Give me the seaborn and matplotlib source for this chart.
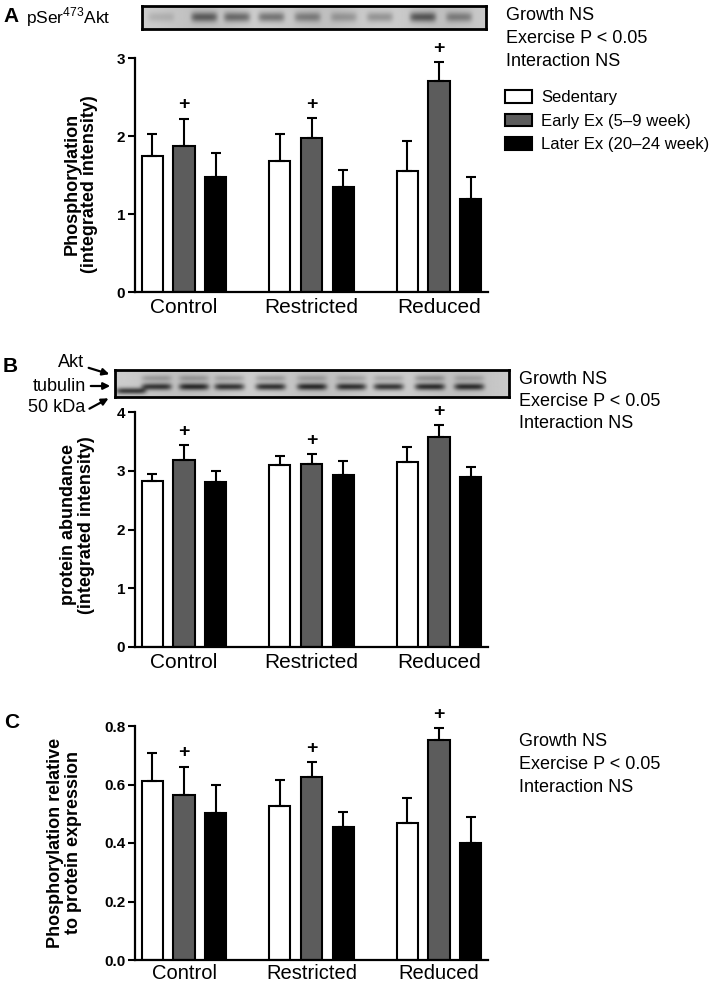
import numpy as np
import pandas as pd
import matplotlib
matplotlib.use('Agg')
import matplotlib.pyplot as plt
from matplotlib.container import BarContainer
import seaborn as sns

groups = ['Control', 'Restricted', 'Reduced']
treatments = ['Sedentary', 'Early Ex (5–9 week)', 'Later Ex (20–24 week)']
bar_colors = ['white', '#5c5c5c', 'black']

# A: pSer473 Akt phosphorylation (rows = group, cols = treatment)
phos_mean = [[1.74, 1.87, 1.47], [1.68, 1.98, 1.35], [1.55, 2.70, 1.19]]
phos_sem = [[0.28, 0.35, 0.31], [0.34, 0.25, 0.22], [0.38, 0.25, 0.29]]
# B: total Akt protein abundance
prot_mean = [[2.83, 3.18, 2.81], [3.09, 3.11, 2.93], [3.15, 3.58, 2.89]]
prot_sem = [[0.12, 0.25, 0.18], [0.16, 0.17, 0.23], [0.26, 0.20, 0.17]]
# C: phosphorylation relative to protein
ratio_mean = [[0.611, 0.565, 0.502], [0.525, 0.624, 0.454], [0.469, 0.751, 0.401]]
ratio_sem = [[0.098, 0.096, 0.095], [0.091, 0.052, 0.051], [0.085, 0.041, 0.089]]

stats_lines = ['Growth NS', 'Exercise P < 0.05', 'Interaction NS']

# western blot lanes (band darkness 0..1)
blot_a_lanes = [0.055, 0.18, 0.275, 0.375, 0.48, 0.585, 0.69, 0.815, 0.92]
blot_a_band = [0.15, 0.60, 0.55, 0.50, 0.42, 0.28, 0.32, 0.65, 0.42]
blot_b_lanes = [0.04, 0.105, 0.20, 0.29, 0.395, 0.50, 0.60, 0.695, 0.80, 0.90]
blot_b_akt = [0.0, 0.25, 0.25, 0.22, 0.25, 0.22, 0.20, 0.20, 0.30, 0.20]
blot_b_tub = [0.0, 0.85, 0.90, 0.88, 0.90, 0.90, 0.88, 0.88, 0.90, 0.88]
blot_b_marker = [0.85, 0, 0, 0, 0, 0, 0, 0, 0, 0]

W, H = 709, 986
sns.set_theme(style='ticks')
plt.rcParams['font.family'] = ['Liberation Sans', 'DejaVu Sans']
plt.rcParams['mathtext.fontset'] = 'custom'
plt.rcParams['mathtext.rm'] = 'Liberation Sans'
for key in ['text.color', 'axes.labelcolor', 'xtick.color', 'ytick.color', 'axes.edgecolor']:
    plt.rcParams[key] = 'black'

fig = plt.figure(figsize=(W / 100, H / 100), dpi=100)


def fx(x):
    return x / W


def fy(y):
    return 1 - y / H


def bar_panel(top, bottom, means, sems, ylim, yticks, fmt, ylabel, lab_xy):
    ax = fig.add_axes([fx(135), fy(bottom), fx(488) - fx(135), fy(top) - fy(bottom)])
    df = pd.DataFrame({
        'group': np.repeat(groups, 3),
        'treatment': treatments * 3,
        'value': np.ravel(means),
    })
    sns.barplot(data=df, x='group', y='value', hue='treatment', order=groups,
                hue_order=treatments, palette=bar_colors, saturation=1,
                width=0.745, gap=0.33, errorbar=None, edgecolor='black',
                linewidth=1.5, ax=ax)
    bar_sets = [c for c in ax.containers if isinstance(c, BarContainer)]
    for i, cont in enumerate(bar_sets):
        for j, bar in enumerate(cont):
            x = bar.get_x() + bar.get_width() / 2
            h = bar.get_height()
            e = sems[j][i]
            ax.errorbar(x, h, yerr=[[0], [e]], fmt='none', ecolor='black',
                        elinewidth=1.5, capsize=3.6, capthick=1.5, zorder=1)
            if i == 1:
                ax.annotate('+', (x, h + e), xytext=(0, 10), textcoords='offset points',
                            ha='center', va='center', fontsize=14, fontweight='bold',
                            annotation_clip=False)
    ax.set_xlim(-0.385, 2.385)
    ax.set_ylim(*ylim)
    ax.set_yticks(yticks)
    ax.set_yticklabels([fmt.format(t) for t in yticks], fontsize=11, fontweight='bold')
    ax.tick_params(axis='y', direction='out', length=5, width=1.5, pad=2)
    ax.tick_params(axis='x', length=0, labelsize=15, pad=4.5)
    sns.despine(ax=ax)
    for s in ['left', 'bottom']:
        ax.spines[s].set_linewidth(1.6)
    ax.set_xlabel('')
    ax.set_ylabel(ylabel, fontsize=13, fontweight='bold', linespacing=1.05)
    ax.yaxis.set_label_coords(*lab_xy)
    return ax


def blot(left, top, right, bottom, rows, lanes):
    bax = fig.add_axes([fx(left), fy(bottom), fx(right) - fx(left), fy(top) - fy(bottom)])
    nx, ny = 500, 60
    xx, yy = np.meshgrid(np.linspace(0, 1, nx), np.linspace(0, 1, ny))
    img = np.full(xx.shape, 0.80) - 0.05 * np.sin(xx * 9) ** 2
    for cy, sy, dark in rows:
        for cx, d in zip(lanes, dark):
            if d <= 0:
                continue
            img -= d * 0.65 * np.exp(-((xx - cx) / 0.038) ** 6 - ((yy - cy) / sy) ** 2)
    bax.imshow(np.clip(img, 0, 1), cmap='gray', vmin=0, vmax=1, aspect='auto',
               extent=(0, 1, 1, 0), interpolation='bilinear')
    bax.set_xticks([])
    bax.set_yticks([])
    for s in bax.spines.values():
        s.set_linewidth(2)
        s.set_visible(True)
    return bax


# Panel A
axA = bar_panel(58, 292, phos_mean, phos_sem, (0, 3), [0, 1, 2, 3], '{:.0f}',
                'Phosphorylation\n(integrated intensity)', (-0.105, 0.46))
handles, labels = axA.get_legend_handles_labels()
axA.get_legend().remove()
fig.legend(handles, labels, loc='upper left', bbox_to_anchor=(fx(505), fy(90)),
           frameon=False, fontsize=12, handlelength=1.6, handleheight=0.8,
           handletextpad=0.55, labelspacing=0.5, borderpad=0, borderaxespad=0)
blot(142, 6, 486, 29, [(0.48, 0.22, blot_a_band)], blot_a_lanes)
fig.text(fx(3), fy(17), 'A', fontsize=15, fontweight='bold', va='center')
fig.text(fx(26), fy(17), r'pSer$^{\mathregular{473}}$Akt', fontsize=12.5, va='center')
for k, line in enumerate(stats_lines):
    fig.text(fx(506), fy(15 + 23.5 * k), line, fontsize=13, va='center')

# Panel B
axB = bar_panel(412, 647, prot_mean, prot_sem, (0, 4), [0, 1, 2, 3, 4], '{:.0f}',
                'protein abundance\n(integrated intensity)', (-0.113, 0.52))
axB.get_legend().remove()
blot(115, 370, 509, 397,
     [(0.30, 0.12, blot_b_akt), (0.62, 0.13, blot_b_tub), (0.78, 0.12, blot_b_marker)],
     blot_b_lanes)
fig.text(fx(3), fy(366), 'B', fontsize=15, fontweight='bold', va='center')
for lbl, ty, tail, head in [('Akt', 363, (86, 367), (112, 375)),
                            ('tubulin', 386, (88, 386), (113, 386)),
                            ('50 kDa', 408, (87, 410), (111, 397))]:
    fig.text(fx(tail[0] - 2), fy(ty), lbl, fontsize=13, ha='right', va='center')
    fig.add_artist(matplotlib.patches.FancyArrowPatch(
        (fx(tail[0]), fy(tail[1])), (fx(head[0]), fy(head[1])),
        transform=fig.transFigure, arrowstyle='-|>', mutation_scale=10,
        color='black', lw=1.6))
for k, line in enumerate(stats_lines):
    fig.text(fx(519), fy(379 + 22.5 * k), line, fontsize=13, va='center')

# Panel C
axC = bar_panel(726, 960, ratio_mean, ratio_sem, (0, 0.8), [0, 0.2, 0.4, 0.6, 0.8], '{:.1f}',
                'Phosphorylation relative\nto protein expression', (-0.15, 0.5))
axC.get_legend().remove()
axC.tick_params(axis='x', labelsize=14.5, pad=3)
fig.text(fx(4), fy(723), 'C', fontsize=15, fontweight='bold', va='center')
for k, line in enumerate(stats_lines):
    fig.text(fx(519), fy(742 + 22.5 * k), line, fontsize=13, va='center')

fig.savefig('out.png', dpi=100)
